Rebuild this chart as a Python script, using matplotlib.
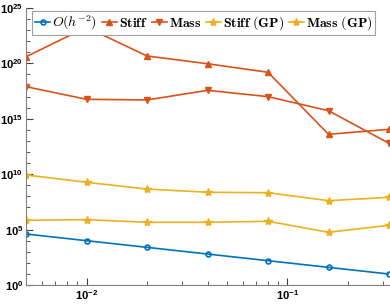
import numpy as np
import matplotlib
matplotlib.use("Agg")
from matplotlib import pyplot as plt
from matplotlib.ticker import NullFormatter

plt.rcParams['mathtext.fontset'] = 'cm'
plt.rcParams['font.family'] = ['Liberation Sans', 'DejaVu Sans']

# mesh sizes and condition numbers (log10 values)
h = [0.005, 0.01, 0.02, 0.04, 0.08, 0.16, 0.32]
rate = [1 / x ** 2 for x in h]
stiff = [20.6, 23.26, 20.67, 19.97, 19.2, 13.6, 14.05]
mass = [17.9, 16.76, 16.7, 17.57, 17.0, 15.73, 12.79]
stiff_gp = [9.93, 9.27, 8.66, 8.37, 8.33, 7.61, 7.91]
mass_gp = [5.84, 5.9, 5.66, 5.66, 5.75, 4.76, 5.39]

blue = '#0072BD'
orange = '#D95319'
yellow = '#EDB120'

fig = plt.figure(figsize=(3.9, 3.05), dpi=100)
ax = fig.add_axes([26 / 390, 1 - 285 / 305, 363 / 390, 277 / 305])

ax.loglog(h, rate, '-o', color=blue, lw=1.2, ms=3.5, mfc='none', mew=1.2,
          label=r'$O(h^{-2})$')
ax.loglog(h, [10 ** v for v in stiff], '-^', color=orange, lw=1.2, ms=4.5,
          label=r'$\mathbf{Stiff}$')
ax.loglog(h, [10 ** v for v in mass], '-v', color=orange, lw=1.2, ms=4.5,
          label=r'$\mathbf{Mass}$')
ax.loglog(h, [10 ** v for v in stiff_gp], '-*', color=yellow, lw=1.2, ms=6,
          label=r'$\mathbf{Stiff\ (GP)}$')
ax.loglog(h, [10 ** v for v in mass_gp], '-*', color=yellow, lw=1.2, ms=6,
          label=r'$\mathbf{Mass\ (GP)}$')

ax.set_xlim(0.005, 0.32)
ax.set_ylim(1, 1e25)

ax.set_yticks([10.0 ** k for k in range(0, 26, 5)])
ax.set_yticks([10.0 ** k for k in range(0, 26) if k % 5], minor=True)
ax.yaxis.set_minor_formatter(NullFormatter())

ax.tick_params(which='both', direction='in', colors='#404040', labelsize=8,
               labelcolor='black', pad=2)
ax.tick_params(which='major', length=5)
ax.tick_params(which='minor', length=3)
for lab in ax.get_xticklabels() + ax.get_yticklabels():
    lab.set_fontweight('bold')

ax.spines['top'].set_visible(False)
ax.spines['right'].set_visible(False)
ax.spines['left'].set_color('#808080')
ax.spines['bottom'].set_color('#808080')

leg = ax.legend(loc='upper center', bbox_to_anchor=(0.49, 0.99), ncol=5,
                fontsize=10, handlelength=1.1, handletextpad=0.15,
                columnspacing=0.3, borderpad=0.2, borderaxespad=0,
                fancybox=False, framealpha=1)
leg.get_frame().set_edgecolor('#a0a0a0')
leg.get_frame().set_linewidth(0.8)

plt.savefig('out.png', dpi=100)
